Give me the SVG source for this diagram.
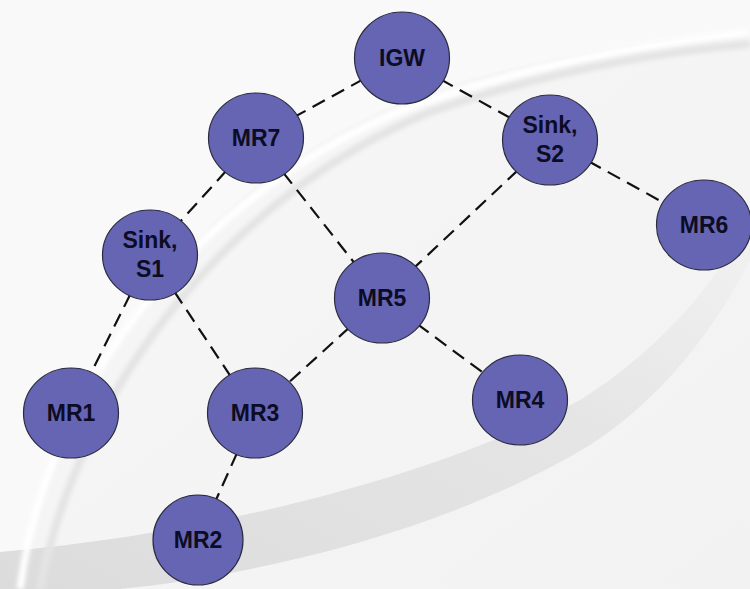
<svg xmlns="http://www.w3.org/2000/svg" width="750" height="589" viewBox="0 0 750 589">
  <defs>
    <linearGradient id="bgGrad" x1="0" y1="0" x2="1" y2="1">
      <stop offset="0" stop-color="#f7f7f7"/>
      <stop offset="1" stop-color="#f2f2f2"/>
    </linearGradient>
    <linearGradient id="bandGrad" x1="0" y1="1" x2="1" y2="0">
      <stop offset="0" stop-color="#dcdcdc"/>
      <stop offset="0.6" stop-color="#e5e5e5"/>
      <stop offset="1" stop-color="#f2f2f2"/>
    </linearGradient>
    <filter id="soft" x="-10%" y="-10%" width="120%" height="120%">
      <feGaussianBlur stdDeviation="2"/>
    </filter>
  </defs>
  <style>
    .node ellipse { fill: #6565b3; stroke: #2a2a40; stroke-width: 1.2; }
    .node text { font-family: "Liberation Sans", Arial, sans-serif; font-weight: bold; font-size: 23px; fill: #0c0c24; text-anchor: middle; }
    .link { stroke: #111; stroke-width: 2.2; stroke-dasharray: 14 8; fill: none; }
  </style>

  <!-- backdrop with swoosh -->
  <rect width="750" height="589" fill="url(#bgGrad)"/>
  <path d="M0 0 H750 V30 C640 40 520 60 420 95 C250 160 80 300 18 589 H0 Z" fill="#f9f9f9"/>
  <path d="M0 552 C200 535 430 480 580 400 C660 350 720 280 750 215 L750 260 C715 330 660 400 590 445 C450 530 260 575 120 589 L0 589 Z" fill="url(#bandGrad)"/>
  <path d="M20 589 C50 360 230 170 430 100 C550 60 660 42 750 32" fill="none" stroke="#ffffff" stroke-width="7" filter="url(#soft)"/>
  <path d="M40 589 C80 380 240 190 430 112 C550 70 660 52 750 44" fill="none" stroke="#e4e4e4" stroke-width="8" filter="url(#soft)"/>

  <!-- connectors -->
  <g id="links">
    <line class="link" x1="402" y1="58" x2="256" y2="138"/>
    <line class="link" x1="402" y1="58" x2="550" y2="140"/>
    <line class="link" x1="256" y1="138" x2="150" y2="255"/>
    <line class="link" x1="256" y1="138" x2="382" y2="298"/>
    <line class="link" x1="550" y1="140" x2="382" y2="298"/>
    <line class="link" x1="550" y1="140" x2="704" y2="225"/>
    <line class="link" x1="150" y1="255" x2="71" y2="413"/>
    <line class="link" x1="150" y1="255" x2="255" y2="413"/>
    <line class="link" x1="382" y1="298" x2="255" y2="413"/>
    <line class="link" x1="382" y1="298" x2="520" y2="400"/>
    <line class="link" x1="255" y1="413" x2="198" y2="540"/>
  </g>

  <!-- nodes -->
  <g id="IGW" class="node"><ellipse cx="402" cy="58" rx="47.5" ry="46"/><text x="402" y="66">IGW</text></g>
  <g id="MR7" class="node"><ellipse cx="256" cy="138" rx="47.5" ry="45"/><text x="256" y="146">MR7</text></g>
  <g id="S2" class="node"><ellipse cx="550" cy="140" rx="47.5" ry="45"/><text x="550" y="133">Sink,</text><text x="550" y="162">S2</text></g>
  <g id="MR6" class="node"><ellipse cx="704" cy="225" rx="47.5" ry="45"/><text x="704" y="233">MR6</text></g>
  <g id="S1" class="node"><ellipse cx="150" cy="255" rx="47.5" ry="45"/><text x="150" y="248">Sink,</text><text x="150" y="277">S1</text></g>
  <g id="MR5" class="node"><ellipse cx="382" cy="298" rx="47.5" ry="45"/><text x="382" y="306">MR5</text></g>
  <g id="MR1" class="node"><ellipse cx="71" cy="413" rx="47.5" ry="45"/><text x="71" y="421">MR1</text></g>
  <g id="MR3" class="node"><ellipse cx="255" cy="413" rx="47.5" ry="45"/><text x="255" y="421">MR3</text></g>
  <g id="MR4" class="node"><ellipse cx="520" cy="400" rx="47.5" ry="45"/><text x="520" y="408">MR4</text></g>
  <g id="MR2" class="node"><ellipse cx="198" cy="540" rx="45" ry="45"/><text x="198" y="548">MR2</text></g>
</svg>
